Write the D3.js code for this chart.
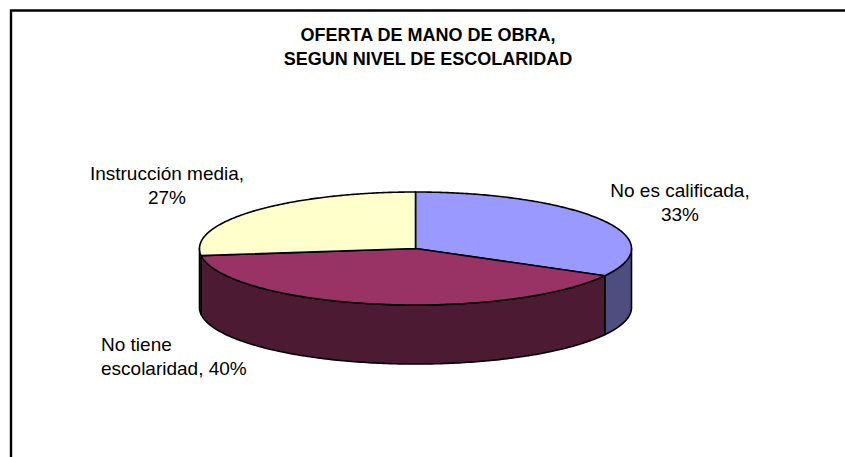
<!DOCTYPE html>
<html><head><meta charset="utf-8">
<script src="https://cdn.jsdelivr.net/npm/d3@7/dist/d3.min.js"></script>
<style>html,body{margin:0;background:#fff}svg{display:block}text{font-family:"Liberation Sans",Arial,sans-serif;fill:#000}</style>
</head><body><div id="c"></div>
<script>
const categories = ["No es calificada", "No tiene escolaridad", "Instrucción media"];
const values = [33, 40, 27];
const topColors = ["#9999ff", "#993366", "#ffffcc"];
const sideColors = ["#4d4d80", "#4d1a33", "#80806a"];
const titleLines = ["OFERTA DE MANO DE OBRA,", "SEGUN NIVEL DE ESCOLARIDAD"];
const labelLines = [["No es calificada,", "33%"], ["No tiene", "escolaridad, 40%"], ["Instrucción media,", "27%"]];
const labelPos = [[680, 197, "middle"], [101, 350.5, "start"], [167, 180, "middle"]];

const W = 845, H = 457;
const svg = d3.select("#c").append("svg").attr("width", W).attr("height", H);

// frame
svg.append("path").attr("d", `M11,${H}V10.5H${W}`).attr("fill", "none").attr("stroke", "#000").attr("stroke-width", 2.4);

const cx = 415.5, cy = 248.5, rx = 216, ry = 56.5, depth = 59;
const sx = d3.scaleLinear().domain([-1, 1]).range([cx - rx, cx + rx]);
const sy = d3.scaleLinear().domain([-1, 1]).range([cy - ry, cy + ry]);
const pie = d3.pie().sort(null).value(d => d);
const arcs = pie(values);
const px = a => sx(Math.sin(a)), py = a => sy(-Math.cos(a));
const line = d3.line();
const samples = (a0, a1) => d3.range(0, 181).map(i => a0 + (a1 - a0) * i / 180);
const g = svg.append("g").attr("stroke", "#000").attr("stroke-width", 1.6).attr("stroke-linejoin", "round");

// side walls (front half only)
arcs.forEach((d, i) => {
  const a0 = Math.max(d.startAngle, Math.PI / 2), a1 = Math.min(d.endAngle, Math.PI * 1.5);
  if (a1 <= a0) return;
  const s = samples(a0, a1);
  const pts = s.map(a => [px(a), py(a)]).concat(s.slice().reverse().map(a => [px(a), py(a) + depth]));
  g.append("path").attr("d", line(pts) + "Z").attr("fill", sideColors[i]);
});

// top faces
arcs.forEach((d, i) => {
  const pts = [[px(0) , sy(0)]].concat(samples(d.startAngle, d.endAngle).map(a => [px(a), py(a)]));
  g.append("path").attr("d", line(pts) + "Z").attr("fill", topColors[i]);
});

// title
svg.append("g").selectAll("text").data(titleLines).join("text")
  .attr("x", 428).attr("y", (d, i) => 41 + i * 24)
  .attr("text-anchor", "middle").attr("font-size", 18).attr("font-weight", "bold").text(d => d);

// labels
labelLines.forEach((ls, i) => {
  const [x, y, anchor] = labelPos[i];
  svg.append("g").selectAll("text").data(ls).join("text")
    .attr("x", x).attr("y", (d, j) => y + j * 24)
    .attr("text-anchor", anchor).attr("font-size", 19).text(d => d);
});
</script></body></html>
